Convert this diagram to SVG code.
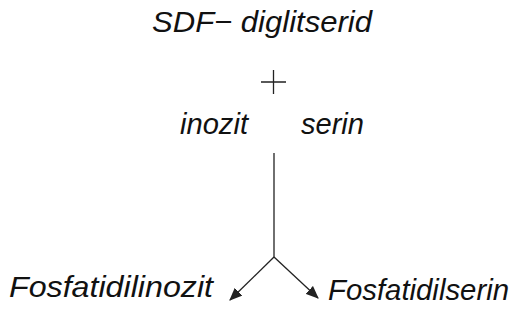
<svg xmlns="http://www.w3.org/2000/svg" width="531" height="326" viewBox="0 0 531 326">
  <style>
    .t { font-family: "Liberation Sans", Arial, sans-serif; font-style: italic; font-size: 30px; fill: #111; }
    .ln { stroke: #222; stroke-width: 1.3; fill: none; }
  </style>
  <defs>
    <marker id="ah" viewBox="0 0 12 10" refX="11" refY="5" markerWidth="13" markerHeight="11" markerUnits="userSpaceOnUse" orient="auto">
      <path d="M0,0 L12,5 L0,10 z" fill="#222"/>
    </marker>
  </defs>
  <rect width="531" height="326" fill="#fff"/>

  <g id="sdf-diglitserid">
    <text class="t" x="152" y="32" textLength="220" lengthAdjust="spacingAndGlyphs">SDF− diglitserid</text>
  </g>
  <g id="plus">
    <path class="ln" d="M261,82 H286 M273.5,70 V94"/>
  </g>
  <g id="inozit">
    <text class="t" x="180" y="134" textLength="68" lengthAdjust="spacingAndGlyphs">inozit</text>
  </g>
  <g id="serin">
    <text class="t" x="301" y="134" textLength="63" lengthAdjust="spacingAndGlyphs">serin</text>
  </g>
  <g id="fosfatidilinozit">
    <text class="t" x="9" y="297" textLength="204" lengthAdjust="spacingAndGlyphs">Fosfatidilinozit</text>
  </g>
  <g id="fosfatidilserin">
    <text class="t" x="328" y="300" textLength="181" lengthAdjust="spacingAndGlyphs">Fosfatidilserin</text>
  </g>

  <g id="connectors">
    <path class="ln" d="M274,153 V257"/>
    <path class="ln" d="M274,257 L230,300" marker-end="url(#ah)"/>
    <path class="ln" d="M274,257 L318,298" marker-end="url(#ah)"/>
  </g>
</svg>
